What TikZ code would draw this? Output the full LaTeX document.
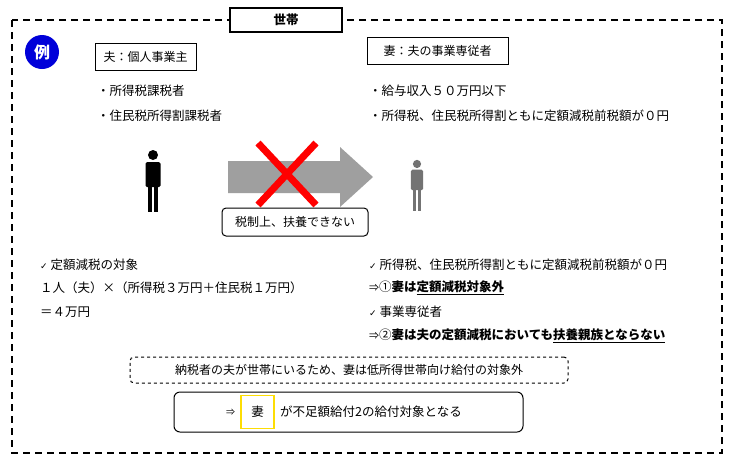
\documentclass[tikz,border=0pt]{standalone}
\usepackage{fontspec}
\setmainfont{Noto Sans CJK JP}
\newfontfamily\symf{DejaVu Sans}
\begin{document}
\begin{tikzpicture}[x=1pt,y=-1pt,
  txt/.style={anchor=west,font=\fontsize{12.5}{14}\selectfont,inner sep=0},
  lbl/.style={draw,font=\fontsize{12}{14}\selectfont,inner sep=0},
  person/.pic={\fill[pic actions] (0,-22) circle (5);
    \fill[pic actions,rounded corners=1.5] (-7.5,-15) rectangle (7.5,10);
    \fill[pic actions] (-5,8) rectangle (-0.7,35); \fill[pic actions] (0.7,8) rectangle (5,35);}]
\useasboundingbox (0,0) rectangle (730,467);
\fill[white] (0,0) rectangle (730,467);
\draw[line width=1.6pt,dash pattern=on 7pt off 5pt] (12,20) rectangle (722,453);
\node[lbl,line width=1.6pt,fill=white,minimum width=112,minimum height=24,font=\bfseries\fontsize{12.5}{14}\selectfont] (title) at (286,20) {世帯};
\node[circle,fill=blue!85!black,minimum size=34,text=white,font=\bfseries\fontsize{16}{18}\selectfont,inner sep=0] (ex) at (42,52) {例};
\node[lbl,minimum width=101,minimum height=27] (hus) at (145.5,56.5) {夫：個人事業主};
\node[lbl,minimum width=141,minimum height=27] (wife) at (437.5,50.5) {妻：夫の事業専従者};
\node[txt] (h1) at (97,91) {・所得税課税者};
\node[txt] (h2) at (97,116) {・住民税所得割課税者};
\node[txt] (w1) at (369,91) {・給与収入５０万円以下};
\node[txt] (w2) at (369,116) {・所得税、住民税所得割ともに定額減税前税額が０円};
\pic[black] (p1) at (153,177) {person};
\pic[gray!90!black,scale=0.82] (p2) at (417,182) {person};
\fill[gray!75] (228,161) -- (340,161) -- (340,147) -- (373,177) -- (340,207) -- (340,193) -- (228,193) -- cycle;
\draw[red,line width=7pt] (258,143) -- (316,205) (316,143) -- (258,205);
\node[lbl,rounded corners=4,line width=1pt,fill=white,minimum width=146,minimum height=28] (cant) at (295,222) {税制上、扶養できない};
\node[txt] (l1) at (40,265) {{\symf\fontsize{9}{10}\selectfont ✓} 定額減税の対象};
\node[txt] (l2) at (40,288) {１人（夫）×（所得税３万円＋住民税１万円）};
\node[txt] (l3) at (40,312) {＝４万円};
\node[txt] (r1) at (369,265) {{\symf\fontsize{9}{10}\selectfont ✓} 所得税、住民税所得割ともに定額減税前税額が０円};
\node[txt] (r2) at (369,288) {{\fontsize{10}{12}\selectfont ⇒}①\textbf{妻は\underline{定額減税対象外}}};
\node[txt] (r3) at (369,312) {{\symf\fontsize{9}{10}\selectfont ✓} 事業専従者};
\node[txt] (r4) at (369,336) {{\fontsize{10}{12}\selectfont ⇒}②\textbf{妻は夫の定額減税においても\underline{扶養親族とならない}}};
\node[lbl,dashed,line width=1pt,rounded corners=4,minimum width=438,minimum height=26] (note) at (349,370) {納税者の夫が世帯にいるため、妻は低所得世帯向け給付の対象外};
\node[draw,line width=1pt,rounded corners=6,minimum width=349,minimum height=40] (res) at (348.5,412) {};
\node[anchor=west,inner sep=0,font=\fontsize{9}{11}\selectfont] (arr) at (226,412) {⇒};
\node[draw=yellow!80!orange,line width=1.8pt,minimum width=33,minimum height=33,font=\fontsize{12.5}{14}\selectfont,inner sep=0] (wy) at (257.5,412) {妻};
\node[txt] (rt) at (280,412) {が不足額給付2の給付対象となる};
\end{tikzpicture}
\end{document}
